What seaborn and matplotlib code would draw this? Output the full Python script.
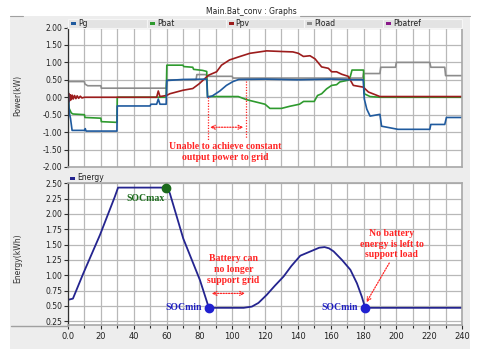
import numpy as np
import pandas as pd
import matplotlib
matplotlib.use("Agg")
import matplotlib.pyplot as plt
import seaborn as sns
from matplotlib.patches import Rectangle
from matplotlib.lines import Line2D

sns.set_theme(style="white")
plt.rcParams['font.family'] = ['DejaVu Sans']

# ---- power traces (kW) vs time (s) ----
pg_t = [0, 0.8, 1.5, 2.5, 10, 10.5, 11, 29.8, 30, 50, 50.5, 54, 55, 56, 59.8, 60.2, 70, 84.5, 85, 88,
        92.5, 96.5, 100.5, 104, 120, 140, 160, 173.8, 179.8, 180.5, 182, 184, 190, 191, 201, 220.4, 221,
        229.5, 230.5, 240]
pg_v = [0.3, -0.45, -0.6, -0.95, -0.95, -0.9, -0.97, -0.97, -0.25, -0.25, -0.2, -0.2, -0.05, -0.2, -0.2,
        0.48, 0.51, 0.52, 0.0, 0.04, 0.18, 0.34, 0.45, 0.51, 0.52, 0.5, 0.52, 0.5, 0.5, -0.05, -0.34, -0.54,
        -0.49, -0.83, -0.92, -0.92, -0.78, -0.78, -0.58, -0.58]

pbat_t = [0, 0.5, 1, 2, 3, 10, 10.3, 20, 20.3, 29.8, 30, 59.8, 60.2, 70, 70.5, 76, 76.5, 82, 84.5, 85,
          103.7, 108.8, 120, 123, 130, 135, 141, 143.5, 150, 152, 154.5, 157.5, 160.6, 163.6, 165.6, 170.7,
          172, 173, 180, 180.5, 184, 190, 240]
pbat_v = [0.3, -0.3, -0.35, -0.45, -0.48, -0.5, -0.58, -0.6, -0.7, -0.72, 0.0, 0.0, 0.92, 0.92, 0.88, 0.86,
          0.8, 0.77, 0.74, 0.02, 0.02, -0.07, -0.2, -0.32, -0.32, -0.26, -0.2, -0.12, -0.12, 0.05, 0.1, 0.24,
          0.34, 0.36, 0.44, 0.49, 0.6, 0.78, 0.78, 0.1, 0.02, 0.0, 0.0]

ppv_t = [0, 0.3, 0.6, 1.0, 1.5, 2.0, 2.6, 3.2, 4.0, 4.8, 5.6, 6.5, 7.5, 8.5, 10, 54, 55, 56, 60, 62, 70,
         76, 80, 85.5, 90.5, 93.5, 98.4, 104.8, 110.8, 121, 131, 137, 140.3, 143.4, 147.4, 150.5, 154.5,
         158.6, 160.6, 163.6, 166.7, 170.7, 173.8, 179.9, 183, 190, 240]
ppv_v = [0.15, -0.15, 0.1, -0.1, 0.07, -0.07, 0.06, -0.05, 0.05, -0.04, 0.04, -0.03, 0.03, -0.02, 0.0,
         0.0, 0.18, 0.02, 0.05, 0.1, 0.2, 0.25, 0.39, 0.63, 0.73, 0.92, 1.07, 1.17, 1.26, 1.33, 1.31, 1.3,
         1.26, 1.17, 1.19, 1.1, 0.87, 0.83, 0.73, 0.73, 0.66, 0.6, 0.34, 0.29, 0.15, 0.02, 0.02]

pload_t = [0, 10, 10.3, 12, 20, 20.3, 59.8, 60.2, 78, 78.5, 84, 84.5, 100, 100.5, 179.5, 180, 190, 190.5,
           199.5, 200, 220.4, 221, 229.5, 230, 240]
pload_v = [0.45, 0.45, 0.38, 0.33, 0.33, 0.26, 0.26, 0.5, 0.5, 0.65, 0.65, 0.6, 0.6, 0.55, 0.55, 0.68,
           0.68, 0.86, 0.86, 1.0, 1.0, 0.86, 0.86, 0.62, 0.62]

# ---- battery energy (kWh) ----
en_t = [0, 3, 9.3, 19.5, 28.5, 30.5, 59.5, 62, 70.2, 80.4, 85.8, 107, 112, 116, 121, 126, 131.3, 136,
        141.5, 148.6, 153, 156.3, 159, 161.8, 166.9, 172, 176, 179, 181, 240]
en_v = [0.6, 0.62, 1.03, 1.66, 2.28, 2.43, 2.43, 2.34, 1.6, 0.92, 0.47, 0.47, 0.49, 0.55, 0.68, 0.83, 0.98,
        1.15, 1.32, 1.40, 1.45, 1.46, 1.44, 1.39, 1.25, 1.09, 0.87, 0.65, 0.47, 0.47]

soc_max = (59.5, 2.43)
soc_min = [(85.8, 0.47), (181.0, 0.47)]

legend_names = ["Pg", "Pbat", "Ppv", "Pload", "Pbatref"]
legend_colors = ["#1f5a9e", "#2e9a2e", "#9c1c1c", "#8c8c8c", "#8a1a8a"]
xtick_vals = list(range(0, 241, 20))
xtick_labels = ["0.0"] + [str(v) for v in xtick_vals[1:]]

W, H = 479, 349
fig = plt.figure(figsize=(W / 100, H / 100), dpi=100)
fig.patch.set_facecolor("white")


def fx(px):
    return px / W


def fy(py):
    return 1 - py / H


# panel background and frame
fig.patches.append(Rectangle((fx(10), 0), fx(470) - fx(10), fy(16), transform=fig.transFigure,
                             facecolor="#ededed", edgecolor="none", zorder=-5))
for a, b in [(10, 23), (300, 470)]:
    fig.lines.append(Line2D([fx(a), fx(b)], [fy(15.7), fy(15.7)], transform=fig.transFigure,
                            color="#a0a0a0", lw=0.8))
fig.lines.append(Line2D([fx(11), fx(68)], [fy(325.5), fy(325.5)], transform=fig.transFigure,
                        color="#a0a0a0", lw=1.0))

fig.text(fx(251), fy(11), "Main.Bat_conv : Graphs", ha="center", va="center", fontsize=5.5, color="#222222")

ax1 = fig.add_axes([fx(68), fy(167), fx(462) - fx(68), fy(27.5) - fy(167)])
ax2 = fig.add_axes([fx(68), fy(325), fx(462) - fx(68), fy(183.3) - fy(325)])

red = "#ff2424"
ser = dict(estimator=None, sort=False, legend=False, lw=1.2)

sns.lineplot(x=pload_t, y=pload_v, ax=ax1, color=legend_colors[3], **ser)
sns.lineplot(x=pbat_t, y=pbat_v, ax=ax1, color=legend_colors[1], **ser)
sns.lineplot(x=ppv_t, y=ppv_v, ax=ax1, color=legend_colors[2], **ser)
sns.lineplot(x=pg_t, y=pg_v, ax=ax1, color=legend_colors[0], **ser)

sns.lineplot(x=en_t, y=en_v, ax=ax2, color="#24248f", estimator=None, sort=False, legend=False, lw=1.3)

for ax in (ax1, ax2):
    ax.set_facecolor("white")
    ax.set_xlim(0, 240)
    ax.set_xticks(xtick_vals)
    ax.set_xticks(range(10, 240, 20), minor=True)
    ax.grid(True, which="both", color="#b8b8b8", lw=0.9)
    ax.set_axisbelow(True)
    for s in ("top", "right", "bottom"):
        ax.spines[s].set_color("#a8a8a8")
        ax.spines[s].set_linewidth(1.2)
    ax.spines["left"].set_color("#303030")
    ax.spines["left"].set_linewidth(0.9)
    ax.tick_params(axis="y", which="major", direction="out", length=3, width=0.8, color="#303030",
                   labelsize=5.5, labelcolor="#222222", pad=1, left=True)
    ax.set_xlabel("")
    ax.set_ylabel("")

ax1.set_ylim(-2, 2)
ax1.set_yticks(np.arange(-2, 2.01, 0.5))
ax1.set_yticklabels([f"{v:.2f}" for v in np.arange(-2, 2.01, 0.5)])
ax1.tick_params(axis="x", which="both", length=0, labelbottom=False)

ax2.set_ylim(0.19, 2.5)
ax2.set_yticks(np.arange(0.25, 2.51, 0.25))
ax2.set_yticklabels([f"{v:.2f}" for v in np.arange(0.25, 2.51, 0.25)])
ax2.set_xticklabels(xtick_labels)
ax2.tick_params(axis="x", which="major", direction="out", length=3, width=0.8, color="#303030",
                labelsize=6, labelcolor="#222222", pad=2, bottom=True)
ax2.tick_params(axis="x", which="minor", direction="out", length=2, width=0.8, color="#303030", bottom=True)

fig.text(fx(18), fy(95), "Power(kW)", rotation=90, ha="center", va="center", fontsize=5.5, color="#333333")
fig.text(fx(18), fy(258), "Energy(kWh)", rotation=90, ha="center", va="center", fontsize=5.5, color="#333333")

# legend header strip above the power panel
cell = (462 - 68) / len(legend_names)
for i, (name, col) in enumerate(zip(legend_names, legend_colors)):
    x0 = 68 + i * cell
    fig.patches.append(Rectangle((fx(x0), fy(27.5)), fx(cell), fy(18.5) - fy(27.5), transform=fig.transFigure,
                                 facecolor="#e3e3e3", edgecolor="#f6f6f6", lw=0.8))
    fig.patches.append(Rectangle((fx(x0 + 3), fy(24.5)), fx(5), fy(21.5) - fy(24.5), transform=fig.transFigure,
                                 facecolor=col, edgecolor="none"))
    fig.text(fx(x0 + 10), fy(23), name, ha="left", va="center", fontsize=5.5, color="#222222")

fig.patches.append(Rectangle((fx(70), fy(180)), fx(5), fy(177) - fy(180), transform=fig.transFigure,
                             facecolor="#24248f", edgecolor="none"))
fig.text(fx(77), fy(178), "Energy", ha="left", va="center", fontsize=5.5, color="#222222")

# annotations
serif_bold = dict(family="Liberation Serif", fontweight="bold", fontsize=7)
dot = (0, (1, 1.2))

ax1.plot([85.5, 85.5], [0.0, -1.22], color=red, lw=0.9, ls=dot)
ax1.plot([108.2, 108.2], [0.48, -1.17], color=red, lw=0.9, ls=dot)
ax1.annotate("", xy=(86.5, -0.86), xytext=(106.8, -0.86),
             arrowprops=dict(arrowstyle="<->", color=red, lw=0.9, ls=dot, shrinkA=0, shrinkB=0,
                             mutation_scale=7))
ax1.text(95.6, -1.57, "Unable to achieve constant\noutput power to grid", ha="center", va="center",
         color=red, linespacing=1.25, **serif_bold)

ax2.annotate("", xy=(87.5, 0.705), xytext=(107.8, 0.705),
             arrowprops=dict(arrowstyle="<->", color=red, lw=0.9, ls=dot, shrinkA=0, shrinkB=0,
                             mutation_scale=7))
ax2.text(100.7, 1.10, "Battery can\nno longer\nsupport grid", ha="center", va="center",
         color=red, linespacing=1.28, **serif_bold)
ax2.annotate("", xy=(181.8, 0.56), xytext=(195.7, 1.2),
             arrowprops=dict(arrowstyle="->", color=red, lw=0.9, ls=dot, shrinkA=0, shrinkB=0,
                             mutation_scale=7))
ax2.text(197.1, 1.51, "No battery\nenergy is left to\nsupport load", ha="center", va="center",
         color=red, linespacing=1.15, **serif_bold)

ax2.plot([soc_max[0]], [soc_max[1]], "o", color="#1b6a1b", ms=6, zorder=5, clip_on=False)
ax2.text(47.5, 2.255, "SOCmax", ha="center", va="center", color="#1b6a1b", **serif_bold)
for (sx, sy), lx in zip(soc_min, (70.3, 165.7)):
    ax2.plot([sx], [sy], "o", color="#2020d0", ms=6, zorder=5)
    ax2.text(lx, 0.48, "SOCmin", ha="center", va="center", color="#2020c0", **serif_bold)

fig.savefig("out.png", dpi=100, facecolor=fig.get_facecolor())
